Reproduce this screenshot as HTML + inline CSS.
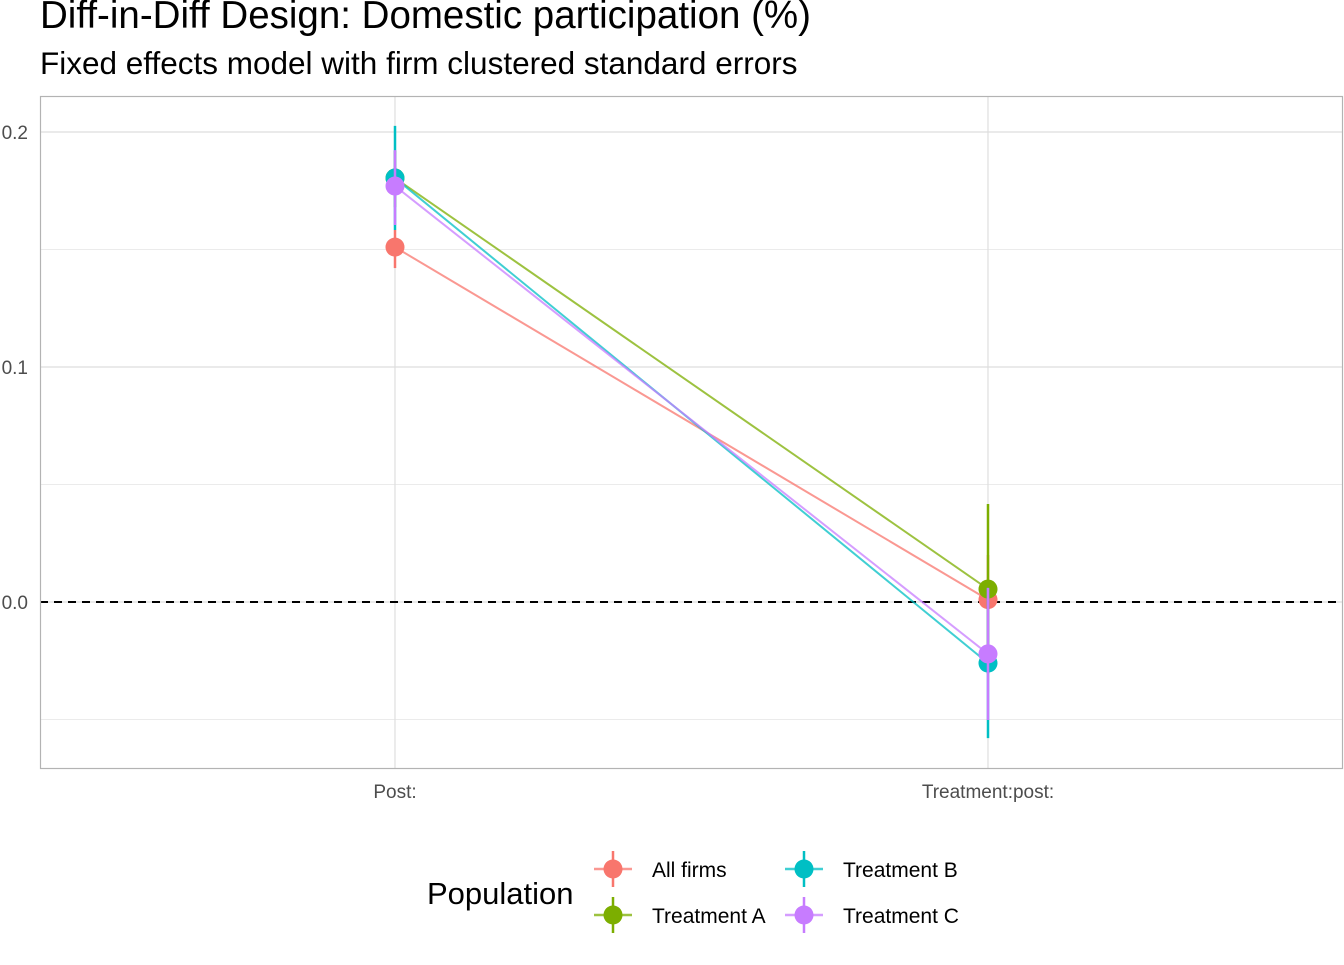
<!DOCTYPE html>
<html><head><meta charset="utf-8"><style>
body{margin:0;background:#fff;font-family:"Liberation Sans",Arial,sans-serif}
svg text{font-family:"Liberation Sans",Arial,sans-serif}
</style></head><body>
<svg id="chart" width="1344" height="960" xmlns="http://www.w3.org/2000/svg">
<text x="40" y="28" font-size="38.5" fill="#000">Diff-in-Diff Design: Domestic participation (%)</text>
<text x="40" y="74" font-size="31.5" fill="#000">Fixed effects model with firm clustered standard errors</text>
<g id="grid"></g>
<line x1="40" y1="602" x2="1343" y2="602" stroke="#000" stroke-width="2" stroke-dasharray="8,6"/>
<g id="marks"></g>
<rect x="40.5" y="96.5" width="1302" height="672" fill="none" stroke="#b3b3b3" stroke-width="1.2"/>
<g id="axes"></g>
<text x="427" y="904" font-size="31" fill="#000">Population</text>
<g id="legend"></g>
</svg>
<script>
const categories = ["Post:", "Treatment:post:"];
const seriesNames = ["All firms", "Treatment A", "Treatment B", "Treatment C"];
const colors = ["#F8766D", "#7CAE00", "#00BFC4", "#C77CFF"];
const estAll = [0.151, 0.001];
const estA = [0.1804, 0.0055];
const estB = [0.1804, -0.026];
const estC = [0.177, -0.0221];
const lowAll = [0.1421, -0.018];
const highAll = [0.1583, 0.020];
const lowA = [0.168, -0.0306];
const highA = [0.192, 0.0417];
const lowB = [0.1583, -0.0579];
const highB = [0.2026, 0.006];
const lowC = [0.1604, -0.0502];
const highC = [0.1923, 0.006];
const yTicks = [0.0, 0.1, 0.2];
const yTickLabels = ["0.0", "0.1", "0.2"];
const yMinor = [-0.05, 0.05, 0.15];

const NS = "http://www.w3.org/2000/svg";
function y(v){ return 602 - v * 2350; }
function x(i){ return 395 + i * 593; }
function mk(tag, attrs, parent){ const e=document.createElementNS(NS,tag); for(const k in attrs) e.setAttribute(k,attrs[k]); parent.appendChild(e); return e; }
const grid=document.getElementById('grid'), marks=document.getElementById('marks'), axes=document.getElementById('axes'), legend=document.getElementById('legend');

yMinor.forEach(v=>{ const l=mk('line',{x1:40,x2:1343,y1:y(v),y2:y(v),stroke:'#ebebeb','stroke-width':1},grid);

 });
yTicks.forEach((v,i)=>{ const l=mk('line',{x1:40,x2:1343,y1:y(v),y2:y(v),stroke:'#dedede','stroke-width':1.2},grid);


const t=mk('text',{x:28,y:y(v)+7,'font-size':19,fill:'#4d4d4d','text-anchor':'end'},axes); t.textContent=yTickLabels[i];

 });
categories.forEach((c,i)=>{ const l=mk('line',{x1:x(i),x2:x(i),y1:96,y2:768,stroke:'#dedede','stroke-width':1.2},grid);


const t=mk('text',{x:x(i),y:798,'font-size':19,fill:'#4d4d4d','text-anchor':'middle'},axes); t.textContent=c;

 });

const est=[estAll,estA,estB,estC], lo=[lowAll,lowA,lowB,lowC], hi=[highAll,highA,highB,highC];
est.forEach((s,k)=>{ const p=mk('polyline',{points:s.map((v,i)=>x(i)+','+y(v)).join(' '),fill:'none',stroke:colors[k],'stroke-width':2,'stroke-opacity':0.75},marks);

 });
est.forEach((s,k)=>{ s.forEach((v,i)=>{
 const l=mk('line',{x1:x(i),x2:x(i),y1:y(hi[k][i]),y2:y(lo[k][i]),stroke:colors[k],'stroke-width':2.5},marks);
 
 
 const c=mk('circle',{cx:x(i),cy:y(v),r:9.5,fill:colors[k]},marks);
 
 
});});
const lx=[613,613,804,804], ly=[869,915,869,915];
seriesNames.forEach((n,k)=>{
 const g=mk('g',{},legend);
 
 
 mk('line',{x1:lx[k]-19,x2:lx[k]+19,y1:ly[k],y2:ly[k],stroke:colors[k],'stroke-width':2.5,'stroke-opacity':0.75},g);
 mk('line',{x1:lx[k],x2:lx[k],y1:ly[k]-18,y2:ly[k]+18,stroke:colors[k],'stroke-width':2.5},g);
 mk('circle',{cx:lx[k],cy:ly[k],r:9.5,fill:colors[k]},g);
 const t=mk('text',{x:lx[k]+39,y:ly[k]+8,'font-size':21,fill:'#000'},g); t.textContent=n;
});
</script>
</body></html>
